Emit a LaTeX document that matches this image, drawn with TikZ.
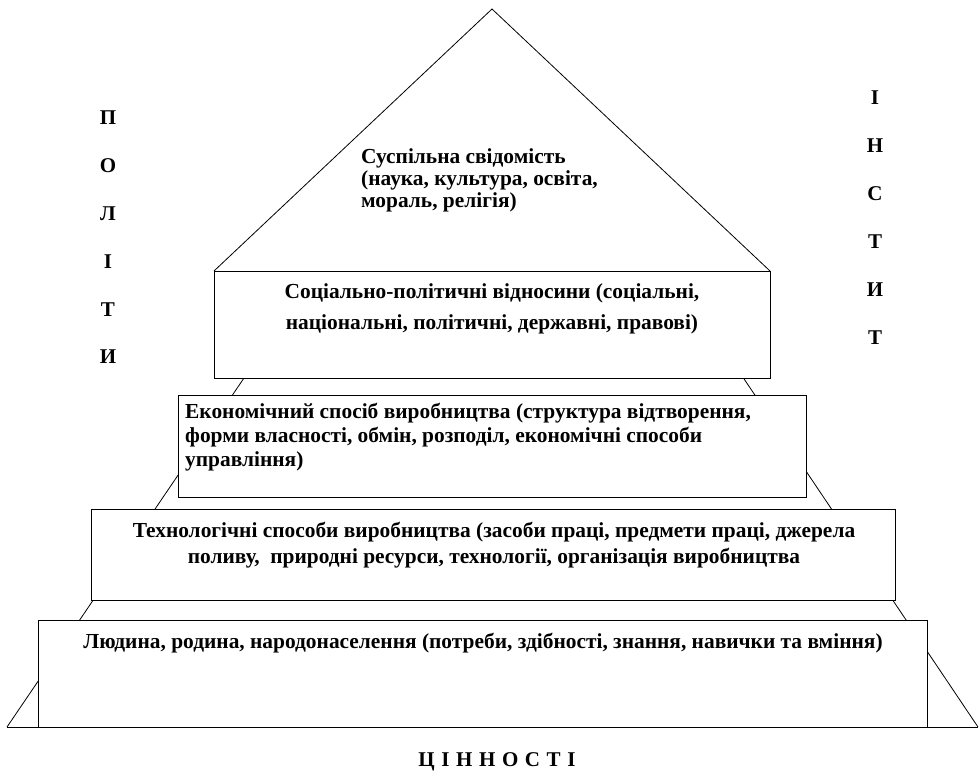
\documentclass[tikz,border=0pt]{standalone}
\usepackage{fontspec}
\setmainfont{Liberation Serif}[BoldFont={Liberation Serif Bold}]
\begin{document}
\begin{tikzpicture}[x=1pt,y=-1pt,
  edge/.style={draw=black,line width=0.8pt},
  tier/.style={draw=black,fill=white,line width=1pt},
  txt/.style={font=\bfseries\fontsize{21.4}{22}\selectfont,inner sep=0pt},
  letter/.style={font=\bfseries\fontsize{21}{22}\selectfont,inner sep=0pt}]
\useasboundingbox (0,0) rectangle (980,776);
% pyramid sides
\coordinate (apex) at (492,9);
\coordinate (bl) at (7,727);
\coordinate (br) at (978,727);
\coordinate (tl) at (297,300);
\coordinate (tr) at (691,300);
\draw[edge] (bl) -- (tl);
\draw[edge] (br) -- (tr);
\draw[edge] (214,271) -- (apex) -- (770,271);
% tiers
\draw[tier] (214,271) rectangle (770,378);
\draw[tier] (178,395) rectangle (806,497);
\draw[tier] (91,509) rectangle (895,600);
\draw[tier] (38,620) rectangle (927,727);
\draw[edge] (bl) -- (br);
% texts
\node[txt,anchor=west,align=left] (roof) at (361,180)
  {Суспільна свідомість\\(наука, культура, освіта,\\мораль, релігія)};
\node[txt,align=center,font=\bfseries\fontsize{21.4}{31}\selectfont] (t1) at (492,309)
  {Соціально-політичні відносини (соціальні,\\національні, політичні, державні, правові)};
\node[txt,anchor=west,align=left,font=\bfseries\fontsize{21.4}{24}\selectfont] (t2) at (185,437)
  {Економічний спосіб виробництва (структура відтворення,\\форми власності, обмін, розподіл, економічні способи\\управління)};
\node[txt,align=center,font=\bfseries\fontsize{21.4}{26}\selectfont] (t3) at (494,545)
  {Технологічні способи виробництва (засоби праці, предмети праці, джерела\\поливу,\ \ природні ресурси, технології, організація виробництва};
\node[txt] (t4) at (483,643)
  {Людина, родина, народонаселення (потреби, здібності, знання, навички та вміння)};
% side letters
\foreach \l [count=\i] in {П,О,Л,І,Т,И}
  \node[letter] (p\i) at (108,{118+47.8*(\i-1)}) {\l};
\foreach \l [count=\i] in {І,Н,С,Т,И,Т}
  \node[letter] (s\i) at (875,{98+48*(\i-1)}) {\l};
\node[letter] (val) at (497,762) {Ц\hspace{6.6pt}І\hspace{6.6pt}Н\hspace{6.6pt}Н\hspace{6.6pt}О\hspace{6.6pt}С\hspace{6.6pt}Т\hspace{6.6pt}І};
\end{tikzpicture}
\end{document}
